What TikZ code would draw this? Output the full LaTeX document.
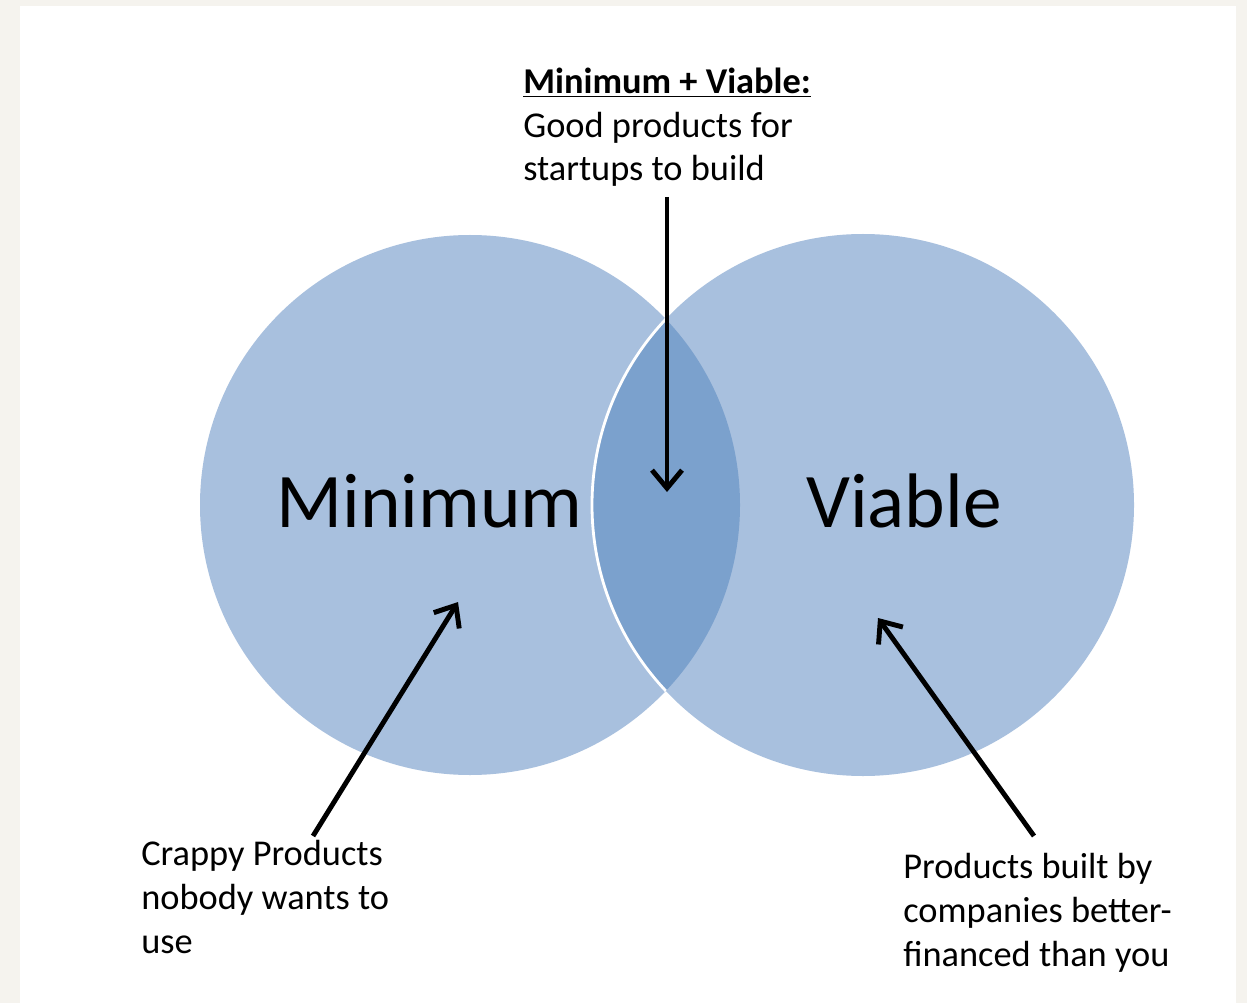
\documentclass[tikz,border=0pt]{standalone}
\usepackage{fontspec}
\setmainfont{Carlito}
\usetikzlibrary{arrows.meta}
\definecolor{bgpaper}{HTML}{F5F3EE}
\definecolor{lightblue}{RGB}{168,192,222}
\definecolor{lensblue}{RGB}{123,161,205}
\tikzset{
  px/.style={x=0.02cm,y=-0.02cm},
  pointer/.style={line width=2.8pt,-{Straight Barb[length=0.36cm,width=0.6cm,line width=2.8pt]}},
  smalltxt/.style={font=\fontsize{20.7}{25}\selectfont,align=left,anchor=base west,inner sep=0pt},
  bigtxt/.style={font=\fontsize{44}{50}\selectfont,anchor=base west,inner sep=0pt},
  circ/.style={fill=lightblue}
}
\begin{document}
\begin{tikzpicture}[px]
\useasboundingbox (0,0) rectangle (1247,1003);
\fill[bgpaper] (0,0) rectangle (1247,1003);
\fill[white] (20,6) rectangle (1236,1003);
% circles
\fill[circ] (470,505) circle[radius=270];
\fill[circ] (863,505) circle[radius=271];
\begin{scope}
  \clip (470,505) circle[radius=270];
  \fill[lensblue] (863,505) circle[radius=271];
\end{scope}
\begin{scope}
  \clip (470,505) circle[radius=270];
  \draw[white,line width=1.6pt] (863,505) circle[radius=271];
\end{scope}
% labels
\node[bigtxt] (min) at (276,527) {Minimum};
\node[bigtxt] (via) at (806,527) {Viable};
\node[smalltxt] (top) at (523,181) {\textbf{\underline{Minimum + Viable:}}\\Good products for\\startups to build};
\node[smalltxt] (left) at (141,953) {Crappy Products\\nobody wants to\\use};
\node[smalltxt] (right) at (903,966) {Products built by\\companies better-\\financed than you};
% arrow endpoints
\coordinate (a1s) at (667,197);
\coordinate (a1e) at (667,492);
\coordinate (a2s) at (313,836);
\coordinate (a2e) at (458,602);
\coordinate (a3s) at (1034,836);
\coordinate (a3e) at (878,618);
\draw[pointer] (a1s) -- (a1e);
\draw[pointer] (a2s) -- (a2e);
\draw[pointer] (a3s) -- (a3e);
\end{tikzpicture}
\end{document}
